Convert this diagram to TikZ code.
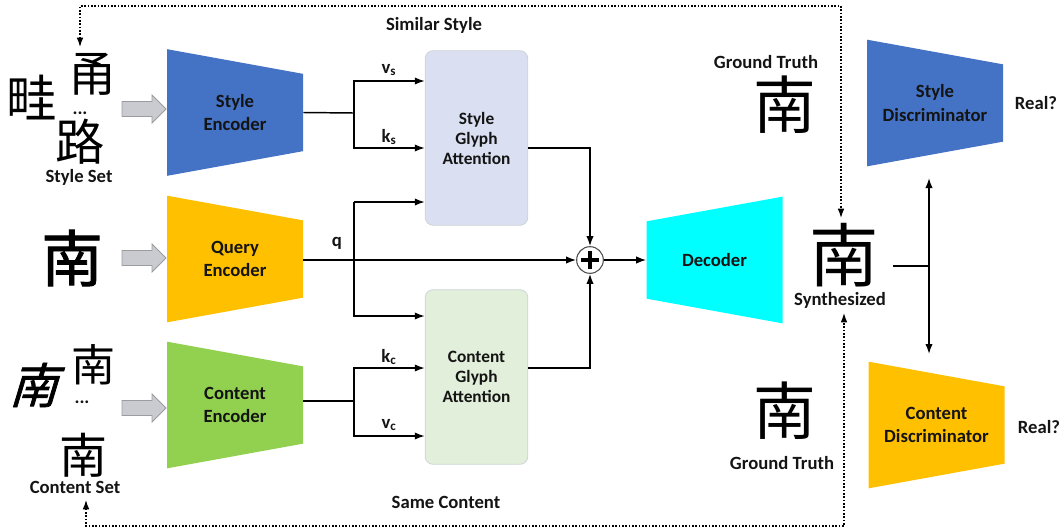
\documentclass[tikz,border=0pt]{standalone}
\usepackage{fontspec}
\setmainfont{Carlito}
\newfontfamily\cjk{Noto Sans CJK SC}
\newfontfamily\cjkbold[FakeBold=1.5]{Noto Sans CJK SC}
\newfontfamily\cjkslant[FakeSlant=0.3,FakeBold=1.5]{Noto Sans CJK SC}
\usetikzlibrary{arrows.meta}

\definecolor{encblue}{HTML}{4472C4}
\definecolor{encorange}{HTML}{FFC000}
\definecolor{encgreen}{HTML}{92D050}
\definecolor{deccyan}{HTML}{00FFFF}
\definecolor{attstyle}{HTML}{DAE0F2}
\definecolor{attcont}{HTML}{E2EFDA}
\definecolor{attborder}{HTML}{CFD3D8}
\definecolor{txt}{HTML}{141414}
\definecolor{arrgray}{HTML}{C9CBD0}
\definecolor{arredge}{HTML}{9A9CA0}

\tikzset{
  lbl/.style={font=\fontsize{14}{17}\selectfont\bfseries, text=txt, align=center, inner sep=0pt},
  trapR/.style={minimum width=102pt, minimum height=95pt, inner sep=0pt, align=center,
    font=\fontsize{14}{17.5}\selectfont\bfseries, text=txt,
    path picture={\fill[#1] (path picture bounding box.north west)
      -- ([yshift=-18.5pt]path picture bounding box.north east)
      -- ([yshift=18.5pt]path picture bounding box.south east)
      -- (path picture bounding box.south west) -- cycle;}},
  trapL/.style={minimum width=102pt, minimum height=95pt, inner sep=0pt, align=center,
    font=\fontsize{14}{17.5}\selectfont\bfseries, text=txt,
    path picture={\fill[#1] ([yshift=-18.5pt]path picture bounding box.north west)
      -- (path picture bounding box.north east)
      -- (path picture bounding box.south east)
      -- ([yshift=18.5pt]path picture bounding box.south west) -- cycle;}},
  attn/.style={rounded corners=6pt, draw=attborder, line width=0.6pt, fill=#1,
    minimum width=77pt, minimum height=131pt, inner sep=0pt, align=center,
    font=\fontsize{13}{15}\selectfont\bfseries, text=txt},
  garrow/.style={fill=arrgray, draw=arredge, line width=0.6pt, line join=miter},
  conn/.style={line width=1.1pt, draw=black},
  arr/.style={conn, -{Latex[length=7.5pt,width=5.5pt]}},
  fb/.style={line width=0.9pt, dash pattern=on 1.2pt off 1.3pt,
    {Latex[length=7pt,width=5pt]}-{Latex[length=7pt,width=5pt]}},
  glyph/.style={inner sep=0pt, text=black},
}

% grey block arrow pointing right, tail at #1 (coordinate name)
\newcommand\blockarrow[1]{%
  \draw[garrow] (#1) ++(0,-7.5) -- ++(30,0) -- ++(0,-6.5) -- ++(14,14)
    -- ++(-14,14) -- ++(0,-6.5) -- ++(-30,0) -- cycle;}

\begin{document}
\begin{tikzpicture}[x=0.75pt,y=-0.75pt]
\useasboundingbox (0,0) rectangle (1060,529);

% ---- input glyph sets ----
\node[glyph, font=\cjk\fontsize{38}{38}\selectfont] (ss1) at (32,98) {畦};
\node[glyph, font=\cjk\fontsize{36}{36}\selectfont] (ss2) at (92,74) {甬};
\node[lbl] (ssdots) at (80,113) {...};
\node[glyph, font=\cjk\fontsize{37}{37}\selectfont] (ss3) at (80,142) {路};
\node[lbl] (sslbl) at (79,177) {Style Set};

\node[glyph, font=\cjkbold\fontsize{46}{46}\selectfont] (qg) at (72,258) {南};

\node[glyph, font=\cjkslant\fontsize{36}{36}\selectfont] (cs1) at (33,385) {南};
\node[glyph, font=\cjk\fontsize{33}{33}\selectfont] (cs2) at (93,365) {南};
\node[lbl] (csdots) at (82,402) {...};
\node[glyph, font=\cjk\fontsize{36}{36}\selectfont] (cs3) at (83,455) {南};
\node[lbl] (cslbl) at (75,487) {Content Set};

% ---- grey input arrows ----
\coordinate (ga1) at (122,109);
\coordinate (ga2) at (122,258);
\coordinate (ga3) at (122,408);
\blockarrow{ga1}
\blockarrow{ga2}
\blockarrow{ga3}

% ---- encoders ----
\node[trapR=encblue]   (se) at (235,112.5) {Style\\Encoder};
\node[trapR=encorange] (qe) at (235,259)   {Query\\Encoder};
\node[trapR=encgreen]  (ce) at (235,405)   {Content\\Encoder};

% ---- glyph attention blocks ----
\node[attn=attstyle] (sga) at (476.5,138) {Style\\Glyph\\Attention};
\node[attn=attcont]  (cga) at (476.5,377) {Content\\Glyph\\Attention};

% ---- fusion ----
\node[circle, draw=black!70, fill=white, line width=0.8pt, minimum size=20pt, inner sep=0pt] (plus) at (590,260) {};
\draw[line width=2.4pt] ([yshift=-3.5pt]plus.north) -- ([yshift=3.5pt]plus.south);
\draw[line width=2.4pt] ([xshift=3.5pt]plus.west) -- ([xshift=-3.5pt]plus.east);

% ---- decoder ----
\node[trapL=deccyan] (dec) at (714.5,260) {Decoder};

% ---- discriminators ----
\node[trapR=encblue]   (sd) at (935,103)   {Style\\Discriminator};
\node[trapR=encorange] (cd) at (936.5,425) {Content\\Discriminator};
\node[lbl] (real1) at (1036,103) {Real?};
\node[lbl] (real2) at (1039,427) {Real?};

% ---- outputs and ground truth ----
\node[lbl] (gt1lbl) at (766,62) {Ground Truth};
\node[glyph, font=\cjk\fontsize{47}{47}\selectfont] (gt1) at (785,105) {南};
\node[glyph, font=\cjk\fontsize{47}{47}\selectfont] (gt2) at (785,411) {南};
\node[lbl] (gt2lbl) at (782,463) {Ground Truth};
\node[glyph, font=\cjk\fontsize{52}{52}\selectfont] (syn) at (844.5,255) {南};
\node[lbl] (synlbl) at (840,300) {Synthesized};

% ---- section captions ----
\node[lbl] (simstyle) at (434,25) {Similar Style};
\node[lbl] (samecont) at (446,502) {Same Content};

% ---- key / value / query routing ----
\coordinate (sbr) at (354,113);
\coordinate (qbr) at (354,260);
\coordinate (cbr) at (354,401);
\draw[conn] (se.east) -- (sbr);
\draw[arr] (sbr) |- (sga.west |- 0,81);
\draw[arr] (sbr) |- (sga.west |- 0,148);
\draw[conn] (ce.east |- cbr) -- (cbr);
\draw[arr] (cbr) |- (cga.west |- 0,368);
\draw[arr] (cbr) |- (cga.west |- 0,436);
\draw[arr] (qe.east |- qbr) -- (plus.west);
\draw[arr] (qbr |- 0,202) -- (sga.west |- 0,202);
\draw[arr] (qbr |- 0,202) -- (qbr |- 0,316) -- (cga.west |- 0,316);

\node[lbl] (vs) at (389,70) {v\textsubscript{s}};
\node[lbl] (ks) at (389,137) {k\textsubscript{s}};
\node[lbl] (ql) at (337,243) {q};
\node[lbl] (kc) at (389,357) {k\textsubscript{c}};
\node[lbl] (vc) at (389,425) {v\textsubscript{c}};

% ---- attention outputs into the sum, then decoder ----
\draw[arr] (sga.east |- 0,148) -| (plus.north);
\draw[arr] (cga.east |- 0,368) -| (plus.south);
\draw[arr] (plus.east) -- (dec.west);

% ---- synthesized glyph to the discriminators ----
\coordinate (synout) at (893,266);
\coordinate (djn) at (929,266);
\coordinate (dtop) at (929,178);
\coordinate (dbot) at (929,354);
\draw[conn, line width=0.9pt] (synout) -- (djn);
\draw[conn, {Latex[length=7.5pt,width=5.5pt]}-{Latex[length=7.5pt,width=5.5pt]}] (dtop) -- (dbot);

% ---- dotted feedback loops ----
\coordinate (ssin) at (80,47);
\coordinate (fbtl) at (80,6);
\coordinate (syntop) at (841,218);
\draw[fb] (ssin) -- (fbtl) -| (syntop);
\coordinate (csin) at (86,500);
\coordinate (fbbl) at (86,526);
\coordinate (synbot) at (844,313);
\draw[fb] (csin) -- (fbbl) -| (synbot);
\end{tikzpicture}
\end{document}
